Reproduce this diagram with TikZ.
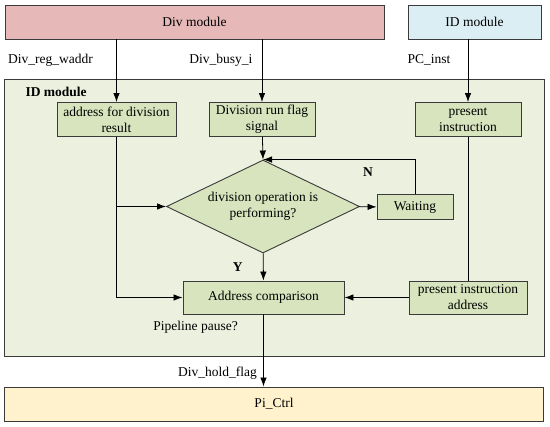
\documentclass[tikz,border=0pt]{standalone}
\usepackage{fontspec}
\setmainfont{Liberation Serif}
\usepackage{tikz}
\usetikzlibrary{arrows.meta,positioning,shapes.geometric}
\definecolor{edgegray}{HTML}{3A3A3A}
\definecolor{divpink}{HTML}{E6B9B8}
\definecolor{idblue}{HTML}{DBEEF3}
\definecolor{regiongreen}{HTML}{EBF1DE}
\definecolor{boxgreen}{HTML}{D7E4BD}
\definecolor{ctrlyellow}{HTML}{FFF2CC}
\newcommand{\figfont}{\fontsize{13.5}{16}\selectfont}

\begin{document}
\begin{tikzpicture}[
  x=1pt,y=-1pt,
  every node/.style={font=\figfont},
  module/.style={draw=edgegray,line width=0.9pt,inner sep=0pt},
  block/.style={draw=edgegray,fill=boxgreen,line width=0.9pt,align=center,inner sep=1pt},
  decide/.style={diamond,draw=edgegray,fill=boxgreen,line width=0.9pt,inner sep=0pt},
  sigarr/.style={-{Latex[length=9pt,width=6.5pt]},line width=0.8pt,draw=black},
  flagtxt/.style={font={\figfont\bfseries}}
]
\useasboundingbox (0,0) rectangle (550,427);

\node[module,fill=regiongreen,minimum width=540pt,minimum height=277pt] (idreg) at (274,217.5) {};
\node[flagtxt,anchor=west] (idtitle) at (22,92) {ID module};

\node[module,fill=divpink,minimum width=379pt,minimum height=34pt] (divmod) at (194.5,22) {Div module};
\node[module,fill=idblue,minimum width=133pt,minimum height=34pt] (idmod) at (474.5,22) {ID module};
\node[module,fill=ctrlyellow,minimum width=539pt,minimum height=34pt] (pictrl) at (274,404) {Pi\_Ctrl};

\node[block,minimum width=119pt,minimum height=34pt] (addr) at (116.5,119.5) {address for division\\result};
\node[block,minimum width=106pt,minimum height=34pt] (flag) at (262,119.5) {Division run flag\\signal};
\node[block,minimum width=106pt,minimum height=34pt] (pinst) at (468,119.5) {present\\instruction};
\node[decide,minimum width=193pt,minimum height=93pt,
  label={[align=center]center:division operation is\\performing?}] (cond) at (263,206.5) {};
\node[block,minimum width=76pt,minimum height=25pt] (wait) at (415,207) {Waiting};
\node[block,minimum width=161pt,minimum height=33pt] (cmp) at (263.5,297.5) {Address comparison};
\node[block,minimum width=118pt,minimum height=33pt] (paddr) at (468,297.5) {present instruction\\address};

\draw[sigarr] (addr.north |- divmod.south) -- node[pos=0.33,left=20pt] {Div\_reg\_waddr} (addr.north);
\draw[sigarr] (flag.north |- divmod.south) -- node[pos=0.33,left=6pt] {Div\_busy\_i} (flag.north);
\draw[sigarr] (pinst.north |- idmod.south) -- node[pos=0.33,left=14pt] {PC\_inst} (pinst.north);

\draw[sigarr] (flag) -- (cond.north);
\draw[sigarr] (cond) -- (wait);
\draw[sigarr] (wait.north) |- node[pos=0.655,below=4pt,flagtxt] {N} (cond.north);
\draw[sigarr] (cond) -- node[left=17pt,flagtxt] {Y} (cmp);
\draw[sigarr] (addr.south) |- (cmp.west);
\draw[sigarr] (addr.south |- cond.west) -- (cond.west);
\draw[line width=0.8pt] (pinst) -- (paddr);
\draw[sigarr] (paddr) -- (cmp);
\draw[sigarr] (cmp.south) -- node[pos=0.18,left=22pt] {Pipeline pause?}
  node[pos=0.81,left=3pt] {Div\_hold\_flag} (cmp.south |- pictrl.north);
\end{tikzpicture}
\end{document}
